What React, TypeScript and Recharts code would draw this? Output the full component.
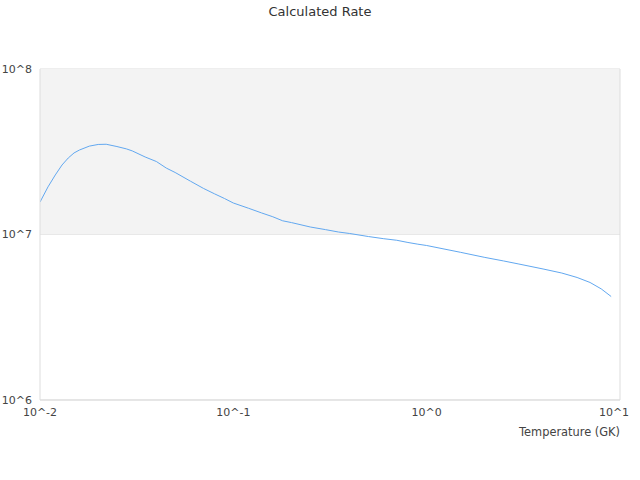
import { LineChart, Line, XAxis, YAxis, CartesianGrid, ReferenceArea, ReferenceLine } from "recharts";

const temperatures = [
  0.01, 0.011, 0.012, 0.013, 0.014, 0.015, 0.016, 0.018, 0.02, 0.022, 0.025, 0.028, 0.03, 0.035, 0.04,
  0.045, 0.05, 0.06, 0.07, 0.08, 0.09, 0.1, 0.12, 0.14, 0.16, 0.18, 0.2, 0.25, 0.3, 0.35, 0.4, 0.5, 0.6,
  0.7, 0.8, 0.9, 1, 1.5, 2, 2.5, 3, 4, 5, 6, 7, 8, 9,
];

const rates = [
  1.57e7, 1.94e7, 2.29e7, 2.63e7, 2.9e7, 3.11e7, 3.24e7, 3.42e7, 3.5e7, 3.51e7, 3.4e7, 3.29e7, 3.2e7,
  2.94e7, 2.76e7, 2.52e7, 2.37e7, 2.1e7, 1.9e7, 1.76e7, 1.65e7, 1.55e7, 1.44e7, 1.35e7, 1.28e7, 1.21e7,
  1.18e7, 1.11e7, 1.07e7, 1.035e7, 1.014e7, 9.72e6, 9.43e6, 9.23e6, 8.95e6, 8.74e6, 8.58e6, 7.8e6, 7.27e6,
  6.92e6, 6.63e6, 6.19e6, 5.85e6, 5.5e6, 5.13e6, 4.69e6, 4.22e6,
];

const xTicks = [0.01, 0.1, 1, 10];
const yTicks = [1e6, 1e7, 1e8];

const data = temperatures.map((t, i) => ({ t, rate: rates[i] }));

const pow10 = (v: number) => `10^${Math.round(Math.log10(v))}`;
const font = "DejaVu Sans, sans-serif";

// last x label is pulled in so it stays inside the chart
function XTick(props: any) {
  const { x, y, payload, index } = props;
  const shift = index === xTicks.length - 1 ? -6 : 0;
  return (
    <text x={x + shift} y={y} dy="0.71em" textAnchor="middle" fontSize={11} fill="#444" fontFamily={font}>
      {pow10(payload.value)}
    </text>
  );
}

export default function App() {
  return (
    <div style={{ position: "absolute", left: 0, top: 0, width: 640, height: 480, fontFamily: font }}>
      <div
        style={{
          position: "absolute",
          top: 4,
          left: 0,
          width: 640,
          textAlign: "center",
          fontSize: 13,
          color: "#333",
        }}
      >
        Calculated Rate
      </div>
      <LineChart width={640} height={480} data={data} margin={{ top: 69, right: 20, bottom: 44, left: 0 }}>
        <ReferenceArea y1={1e7} y2={1e8} fill="#f3f3f3" fillOpacity={1} stroke="none" ifOverflow="hidden" />
        <CartesianGrid vertical={false} stroke="#dddddd" strokeWidth={1} />
        <ReferenceLine x={10} stroke="#dddddd" />
        <XAxis
          dataKey="t"
          type="number"
          scale="log"
          domain={[0.01, 10]}
          ticks={xTicks}
          allowDataOverflow
          tickLine={false}
          axisLine={{ stroke: "#dddddd" }}
          height={36}
          tick={<XTick />}
          label={{
            value: "Temperature (GK)",
            position: "insideBottomRight",
            offset: 0,
            fontSize: 11.4,
            fill: "#444",
            fontFamily: font,
          }}
        />
        <YAxis
          type="number"
          scale="log"
          domain={[1e6, 1e8]}
          ticks={yTicks}
          allowDataOverflow
          tickFormatter={pow10}
          tickLine={false}
          axisLine={{ stroke: "#dddddd" }}
          width={40}
          tick={{ fontSize: 11, fill: "#444", fontFamily: font }}
        />
        <Line
          type="linear"
          dataKey="rate"
          stroke="#62a8f0"
          strokeWidth={1}
          dot={false}
          isAnimationActive={false}
        />
      </LineChart>
    </div>
  );
}
